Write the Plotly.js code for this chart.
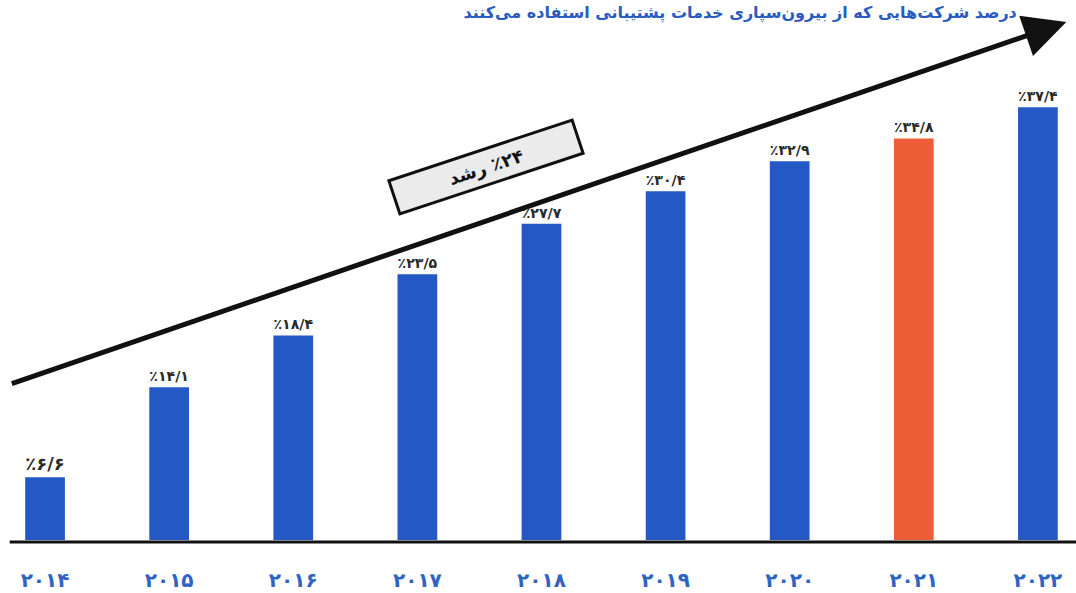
<!DOCTYPE html>
<html>
<head>
<meta charset="utf-8">
<script src="https://cdn.plot.ly/plotly-3.0.1.min.js"></script>
<style>html,body{margin:0;padding:0;background:#fff;}#chart{width:1076px;height:593px;}</style>
</head>
<body>
<div id="chart"></div>
<script>
const years = ['۲۰۱۴','۲۰۱۵','۲۰۱۶','۲۰۱۷','۲۰۱۸','۲۰۱۹','۲۰۲۰','۲۰۲۱','۲۰۲۲'];
const values = [6.6, 14.1, 18.4, 23.5, 27.7, 30.4, 32.9, 34.8, 37.4];
const highlightYear = '۲۰۲۱';
const titleText = 'درصد شرکت‌هایی که از بیرون‌سپاری خدمات پشتیبانی استفاده می‌کنند';
const growthLabel = 'رشد' + '\u200E' + ' ٪۲۴';

const faDigits = '۰۱۲۳۴۵۶۷۸۹';
function toFa(v) {
  return '٪' + v.toFixed(1).replace(/\d/g, d => faDigits[+d]).replace('.', '/');
}
const idx = years.map((_, i) => i);
const colors = years.map(y => y === highlightYear ? '#ed5e38' : '#2358c5');

const trace = {
  type: 'bar',
  x: idx,
  y: values,
  width: 0.32,
  marker: {color: colors, line: {width: 0}},
  text: values.map(v => '<b>' + toFa(v) + '</b>'),
  textposition: 'outside',
  cliponaxis: true,
  textfont: {family: 'DejaVu Sans', size: 18, color: '#2a2a2a'},
  hoverinfo: 'none'
};

const layout = {
  width: 1076, height: 593,
  margin: {l: 0, r: 0, t: 20, b: 53},
  paper_bgcolor: '#fff', plot_bgcolor: '#fff',
  showlegend: false,
  title: {text: '<b>' + titleText + '</b>', x: 0.945, xanchor: 'right', xref: 'paper',
          y: 0.988, yref: 'container', yanchor: 'top',
          font: {family: 'DejaVu Sans', size: 16, color: '#2a5bc0'}},
  xaxis: {
    range: [-0.363, 8.307], tickvals: idx, ticktext: years.map(y => '<b>' + y + '</b>'),
    showgrid: false, zeroline: false, showline: false, ticks: '',
    ticklabelstandoff: 26,
    tickfont: {family: 'DejaVu Sans', size: 20, color: '#2e63c4'},
    fixedrange: true
  },
  yaxis: {range: [1.39, 44.65], visible: false, fixedrange: true},
  shapes: [
    {type: 'line', xref: 'paper', yref: 'paper', x0: 0.009, x1: 1, y0: -0.004, y1: -0.004,
     line: {color: '#111', width: 3}}
  ],
  annotations: [
    {xref: 'paper', yref: 'paper', x: 0.991, y: 0.996, text: '', showarrow: true,
     ax: -1056, ay: 362, arrowhead: 2, arrowsize: 1.7, arrowwidth: 5, arrowcolor: '#111', standoff: 0},
    {xref: 'paper', yref: 'paper', x: 486 / 1076, y: (540 - 167) / 520, xanchor: 'center', yanchor: 'middle',
     text: '<b>' + growthLabel + '</b>',
     showarrow: false, textangle: -18.3, width: 186, height: 28,
     bgcolor: '#ebebeb', bordercolor: '#111', borderwidth: 3, borderpad: 2,
     font: {family: 'DejaVu Sans', size: 18, color: '#111'}}
  ]
};

Plotly.newPlot('chart', [trace], layout, {displayModeBar: false, staticPlot: true});
</script>
</body>
</html>
